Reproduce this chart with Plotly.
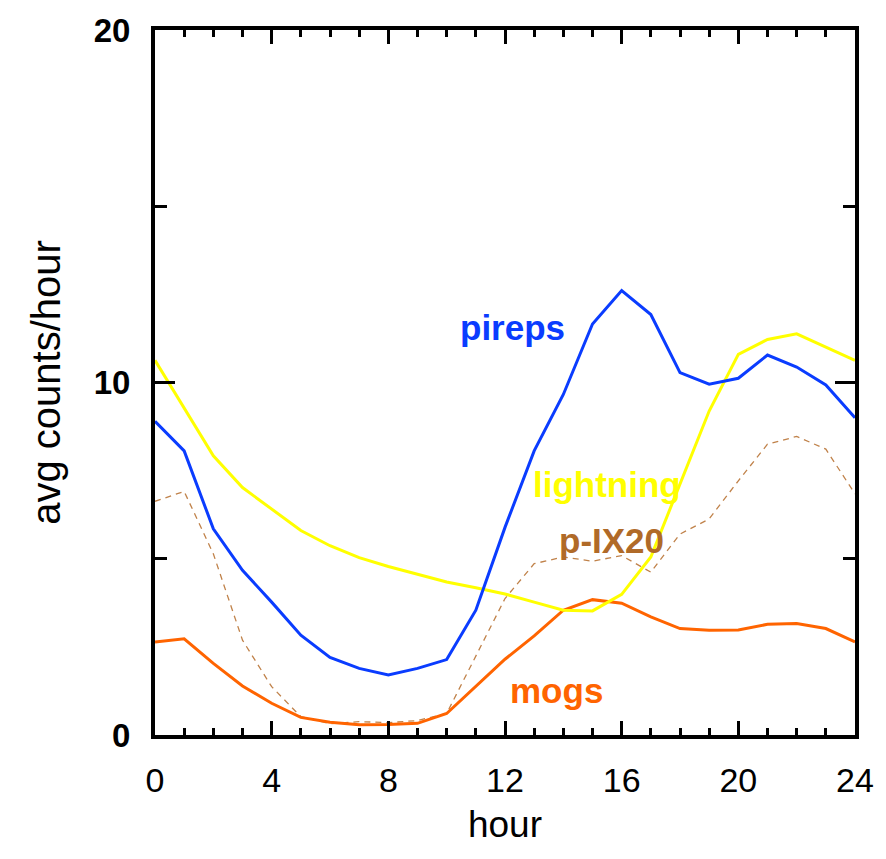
import plotly.graph_objects as go

hours = list(range(25))
pireps = [8.9, 8.06, 5.85, 4.67, 3.77, 2.83, 2.2, 1.89, 1.7, 1.89, 2.14, 3.54, 5.89,
          8.06, 9.66, 11.66, 12.61, 11.93, 10.28, 9.95, 10.12, 10.78, 10.44, 9.93, 9.0]
lightning = [10.63, 9.26, 7.92, 7.02, 6.41, 5.8, 5.37, 5.03, 4.78, 4.57, 4.34, 4.18, 4.0,
             3.77, 3.54, 3.52, 3.99, 5.05, 7.14, 9.19, 10.8, 11.22, 11.38, 11.0, 10.63]
mogs = [2.64, 2.73, 2.03, 1.39, 0.9, 0.5, 0.36, 0.29, 0.3, 0.33, 0.61, 1.39, 2.15,
        2.81, 3.54, 3.84, 3.74, 3.35, 3.02, 2.97, 2.98, 3.14, 3.16, 3.02, 2.64]
pix20 = [6.63, 6.91, 5.14, 2.69, 1.37, 0.52, 0.32, 0.38, 0.35, 0.41, 0.61, 2.22, 3.87,
         4.86, 5.05, 4.93, 5.09, 4.62, 5.7, 6.13, 7.21, 8.25, 8.47, 8.11, 6.84]

series_names = ["pireps", "lightning", "p-IX20", "mogs"]
label_x = [12.25, 15.48, 15.65, 13.78]
label_y = [11.57, 7.1, 5.52, 1.27]

BLUE = "#0a3cff"
YELLOW = "#ffff00"
ORANGE = "#ff6400"
BROWN = "#b06a28"
BROWN_LINE = "#c0824a"

fig = go.Figure()
fig.add_trace(go.Scatter(x=hours, y=pix20, mode="lines",
                         line=dict(color=BROWN_LINE, width=1.3, dash="6px,5px")))
fig.add_trace(go.Scatter(x=hours, y=mogs, mode="lines", line=dict(color=ORANGE, width=3)))
fig.add_trace(go.Scatter(x=hours, y=lightning, mode="lines", line=dict(color=YELLOW, width=3)))
fig.add_trace(go.Scatter(x=hours, y=pireps, mode="lines", line=dict(color=BLUE, width=3)))

label_colors = [BLUE, YELLOW, BROWN, ORANGE]
for name, lx, ly, c in zip(series_names, label_x, label_y, label_colors):
    fig.add_annotation(x=lx, y=ly, text=name, showarrow=False,
                       font=dict(family="Liberation Sans", size=35, color=c, weight="bold"))

fig.update_layout(
    width=886, height=859,
    margin=dict(l=155, r=24, t=28, b=124),
    plot_bgcolor="white", paper_bgcolor="white",
    showlegend=False,
    font=dict(family="Liberation Sans", color="black"),
)
fig.update_xaxes(
    range=[0, 24], dtick=4, tick0=0, ticks="inside", ticklen=14, tickwidth=3,
    tickcolor="black", showline=True, linewidth=4, linecolor="black",
    mirror="ticks", showgrid=False, zeroline=False,
    minor=dict(dtick=1, ticks="inside", ticklen=7, tickwidth=3, tickcolor="black", showgrid=False),
    tickfont=dict(size=34, family="Liberation Sans Narrow, Liberation Sans"),
    ticklabelstandoff=12,
    title=dict(text="hour", font=dict(size=37, family="Liberation Sans"), standoff=14),
)
fig.update_yaxes(
    range=[0, 20], dtick=10, tick0=0, ticks="inside", ticklen=20, tickwidth=3,
    tickcolor="black", showline=True, linewidth=4, linecolor="black",
    mirror="ticks", showgrid=False, zeroline=False,
    minor=dict(dtick=5, ticks="inside", ticklen=12, tickwidth=3, tickcolor="black", showgrid=False),
    tickfont=dict(size=33, family="Liberation Sans", weight="bold"),
    ticklabelstandoff=14,
    title=dict(text="avg counts/hour", font=dict(size=40, family="Liberation Sans"), standoff=22),
)

fig.write_html("out.html")
